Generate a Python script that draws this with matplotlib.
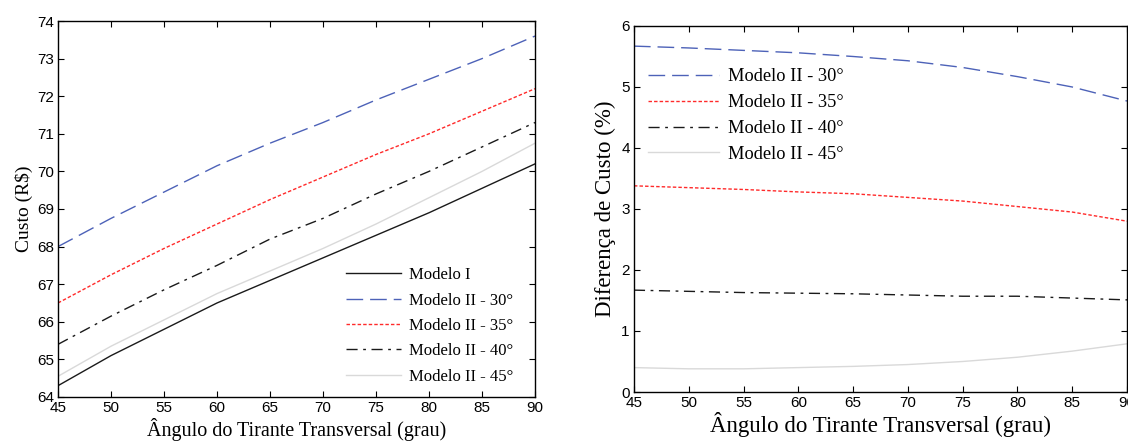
import matplotlib
matplotlib.use("Agg")
import matplotlib.pyplot as plt

angulo = [45, 50, 55, 60, 65, 70, 75, 80, 85, 90]

# Custo (R$)
custo_m1 = [64.3, 65.1, 65.8, 66.5, 67.1, 67.7, 68.3, 68.9, 69.55, 70.2]
custo_30 = [68.0, 68.75, 69.45, 70.15, 70.75, 71.3, 71.9, 72.45, 73.0, 73.6]
custo_35 = [66.5, 67.25, 67.95, 68.6, 69.25, 69.85, 70.45, 71.0, 71.6, 72.2]
custo_40 = [65.4, 66.15, 66.85, 67.5, 68.2, 68.75, 69.4, 70.0, 70.65, 71.3]
custo_45 = [64.55, 65.35, 66.05, 66.75, 67.35, 67.95, 68.6, 69.3, 70.0, 70.75]

# Diferenca de custo (%)
dif_30 = [5.67, 5.64, 5.60, 5.56, 5.50, 5.43, 5.32, 5.17, 5.00, 4.77]
dif_35 = [3.38, 3.35, 3.32, 3.28, 3.25, 3.19, 3.13, 3.04, 2.95, 2.80]
dif_40 = [1.67, 1.65, 1.63, 1.62, 1.61, 1.59, 1.57, 1.57, 1.54, 1.51]
dif_45 = [0.40, 0.38, 0.38, 0.40, 0.42, 0.45, 0.50, 0.57, 0.67, 0.79]

nomes = ['Modelo I', 'Modelo II - 30°', 'Modelo II - 35°', 'Modelo II - 40°', 'Modelo II - 45°']

azul = '#4d62b8'
verm = '#ff2a2a'
preto = '#1a1a1a'
cinza = '#d9d9d9'

st30 = (0, (12, 5))
st35 = (0, (2.5, 1.5))
st40 = (0, (8, 4, 2, 4))

serif = ['Liberation Serif', 'DejaVu Serif']
tickfont = 'Liberation Sans'

fig = plt.figure(figsize=(11.28, 4.45), dpi=100)
ax1 = fig.add_axes([0.0514, 0.1079, 0.4229, 0.8449])
ax2 = fig.add_axes([0.562, 0.1191, 0.4371, 0.8225])

ax1.plot(angulo, custo_m1, color=preto, lw=1.0, label=nomes[0])
ax1.plot(angulo, custo_30, color=azul, lw=1.0, linestyle=st30, label=nomes[1])
ax1.plot(angulo, custo_35, color=verm, lw=1.0, linestyle=st35, label=nomes[2])
ax1.plot(angulo, custo_40, color=preto, lw=1.0, linestyle=st40, label=nomes[3])
ax1.plot(angulo, custo_45, color=cinza, lw=1.0, label=nomes[4])
ax1.set_xlim(45, 90)
ax1.set_ylim(64, 74)
ax1.set_yticks(range(64, 75))
ax1.set_xticks(range(45, 91, 5))
ax1.set_xlabel('Ângulo do Tirante Transversal (grau)', family=serif, fontsize=14.5, labelpad=2)
ax1.set_ylabel('Custo (R$)', family=serif, fontsize=14, labelpad=3)
ax1.legend(loc='upper left', frameon=False, prop={'family': serif, 'size': 12},
           handlelength=3.3, handletextpad=0.5, labelspacing=0.56,
           borderpad=0, borderaxespad=0, bbox_to_anchor=(0.604, 0.345))

ax2.plot(angulo, dif_30, color=azul, lw=1.0, linestyle=st30, label=nomes[1])
ax2.plot(angulo, dif_35, color=verm, lw=1.0, linestyle=st35, label=nomes[2])
ax2.plot(angulo, dif_40, color=preto, lw=1.0, linestyle=st40, label=nomes[3])
ax2.plot(angulo, dif_45, color=cinza, lw=1.0, label=nomes[4])
ax2.set_xlim(45, 90)
ax2.set_ylim(0, 6)
ax2.set_xticks(range(45, 91, 5))
ax2.set_yticks(range(0, 7))
ax2.set_xlabel('Ângulo do Tirante Transversal (grau)', family=serif, fontsize=16.5, labelpad=1)
ax2.set_ylabel('Diferença de Custo (%)', family=serif, fontsize=16.5, labelpad=4)
ax2.legend(loc='upper left', frameon=False, prop={'family': serif, 'size': 13.2},
           handlelength=3.9, handletextpad=0.5, labelspacing=0.48,
           borderpad=0, borderaxespad=0, bbox_to_anchor=(0.028, 0.884))

for ax in (ax1, ax2):
    ax.tick_params(direction='in', top=True, right=True, length=4, width=0.8,
                   labelsize=11, pad=3)
    for lab in ax.get_xticklabels() + ax.get_yticklabels():
        lab.set_family(tickfont)
    for sp in ax.spines.values():
        sp.set_linewidth(1.0)

fig.savefig('out.png', dpi=100)
